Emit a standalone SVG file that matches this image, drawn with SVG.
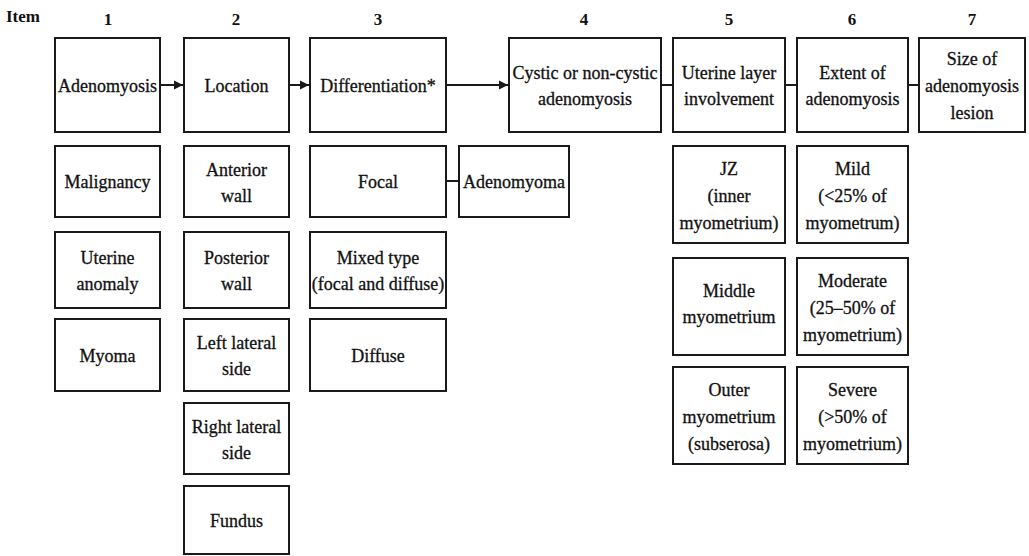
<svg xmlns="http://www.w3.org/2000/svg" width="1029" height="556" viewBox="0 0 1029 556">
<style>
.box{fill:#fff;stroke:#1a1a1a;stroke-width:2}
.t{font-family:"Liberation Serif","Times New Roman",serif;font-size:18px;fill:#111;stroke:#111;stroke-width:0.3;text-anchor:middle}
.h{font-family:"Liberation Serif","Times New Roman",serif;font-size:17px;font-weight:bold;fill:#111;text-anchor:middle}
.c{stroke:#1a1a1a;stroke-width:2;fill:none}
</style>
<defs>
<marker id="arr" markerUnits="userSpaceOnUse" markerWidth="10" markerHeight="10" refX="9" refY="5" orient="auto">
<path d="M0,0.5 L9,5 L0,9.5 Z" fill="#1a1a1a"/>
</marker>
</defs>
<rect width="1029" height="556" fill="#fff"/>
<g id="header">
<text class="h" x="23" y="22">Item</text>
<text class="h" x="108" y="25">1</text>
<text class="h" x="236" y="25">2</text>
<text class="h" x="378" y="25">3</text>
<text class="h" x="584" y="25">4</text>
<text class="h" x="729" y="25">5</text>
<text class="h" x="852" y="25">6</text>
<text class="h" x="972" y="25">7</text>
</g>
<g id="connectors">
<line class="c" x1="161" y1="85" x2="183" y2="85" marker-end="url(#arr)"/>
<line class="c" x1="290" y1="85" x2="309" y2="85" marker-end="url(#arr)"/>
<line class="c" x1="447" y1="85" x2="508" y2="85" marker-end="url(#arr)"/>
<line class="c" x1="661" y1="85" x2="673" y2="85"/>
<line class="c" x1="785" y1="85" x2="797" y2="85"/>
<line class="c" x1="908" y1="85" x2="919" y2="85"/>
<line class="c" x1="446" y1="181" x2="459" y2="181"/>
</g>
<g id="adenomyosis"><rect class="box" x="55" y="38" width="105" height="94"/><text class="t" x="107.5" y="92">Adenomyosis</text></g>
<g id="location"><rect class="box" x="184" y="38" width="105" height="94"/><text class="t" x="236.5" y="92">Location</text></g>
<g id="differentiation"><rect class="box" x="310" y="38" width="136" height="94"/><text class="t" x="378" y="92">Differentiation*</text></g>
<g id="cystic"><rect class="box" x="509" y="38" width="152" height="94"/><text class="t" x="585" y="79">Cystic or non-cystic</text><text class="t" x="585" y="105">adenomyosis</text></g>
<g id="uterine-layer"><rect class="box" x="673" y="38" width="112" height="94"/><text class="t" x="729" y="79">Uterine layer</text><text class="t" x="729" y="105">involvement</text></g>
<g id="extent"><rect class="box" x="797" y="38" width="111" height="94"/><text class="t" x="852.5" y="79">Extent of</text><text class="t" x="852.5" y="105">adenomyosis</text></g>
<g id="size"><rect class="box" x="919" y="38" width="106" height="94"/><text class="t" x="972" y="65">Size of</text><text class="t" x="972" y="92">adenomyosis</text><text class="t" x="972" y="119">lesion</text></g>

<g id="malignancy"><rect class="box" x="55" y="146" width="105" height="71"/><text class="t" x="107.5" y="188">Malignancy</text></g>
<g id="uterine-anomaly"><rect class="box" x="55" y="232" width="105" height="76"/><text class="t" x="107.5" y="264">Uterine</text><text class="t" x="107.5" y="290">anomaly</text></g>
<g id="myoma"><rect class="box" x="55" y="319" width="105" height="72"/><text class="t" x="107.5" y="362">Myoma</text></g>

<g id="anterior"><rect class="box" x="184" y="146" width="105" height="71"/><text class="t" x="236.5" y="176">Anterior</text><text class="t" x="236.5" y="202">wall</text></g>
<g id="posterior"><rect class="box" x="184" y="232" width="105" height="76"/><text class="t" x="236.5" y="264">Posterior</text><text class="t" x="236.5" y="290">wall</text></g>
<g id="left-lateral"><rect class="box" x="184" y="319" width="105" height="72"/><text class="t" x="236.5" y="349">Left lateral</text><text class="t" x="236.5" y="375">side</text></g>
<g id="right-lateral"><rect class="box" x="184" y="403" width="105" height="71"/><text class="t" x="236.5" y="433">Right lateral</text><text class="t" x="236.5" y="459">side</text></g>
<g id="fundus"><rect class="box" x="184" y="486" width="105" height="68"/><text class="t" x="236.5" y="527">Fundus</text></g>

<g id="focal"><rect class="box" x="310" y="146" width="136" height="71"/><text class="t" x="378" y="188">Focal</text></g>
<g id="adenomyoma"><rect class="box" x="459" y="146" width="110" height="71"/><text class="t" x="514" y="188">Adenomyoma</text></g>
<g id="mixed"><rect class="box" x="310" y="232" width="136" height="76"/><text class="t" x="378" y="264">Mixed type</text><text class="t" x="378" y="290">(focal and diffuse)</text></g>
<g id="diffuse"><rect class="box" x="310" y="319" width="136" height="72"/><text class="t" x="378" y="362">Diffuse</text></g>

<g id="jz"><rect class="box" x="673" y="146" width="112" height="97"/><text class="t" x="729" y="175">JZ</text><text class="t" x="729" y="202">(inner</text><text class="t" x="729" y="229">myometrium)</text></g>
<g id="middle"><rect class="box" x="673" y="258" width="112" height="97"/><text class="t" x="729" y="297">Middle</text><text class="t" x="729" y="323">myometrium</text></g>
<g id="outer"><rect class="box" x="673" y="367" width="112" height="97"/><text class="t" x="729" y="396">Outer</text><text class="t" x="729" y="423">myometrium</text><text class="t" x="729" y="450">(subserosa)</text></g>

<g id="mild"><rect class="box" x="797" y="146" width="111" height="97"/><text class="t" x="852.5" y="175">Mild</text><text class="t" x="852.5" y="202">(&lt;25% of</text><text class="t" x="852.5" y="229">myometrum)</text></g>
<g id="moderate"><rect class="box" x="797" y="258" width="111" height="97"/><text class="t" x="852.5" y="287">Moderate</text><text class="t" x="852.5" y="314">(25–50% of</text><text class="t" x="852.5" y="341">myometrium)</text></g>
<g id="severe"><rect class="box" x="797" y="367" width="111" height="97"/><text class="t" x="852.5" y="396">Severe</text><text class="t" x="852.5" y="423">(&gt;50% of</text><text class="t" x="852.5" y="450">myometrium)</text></g>
</svg>
